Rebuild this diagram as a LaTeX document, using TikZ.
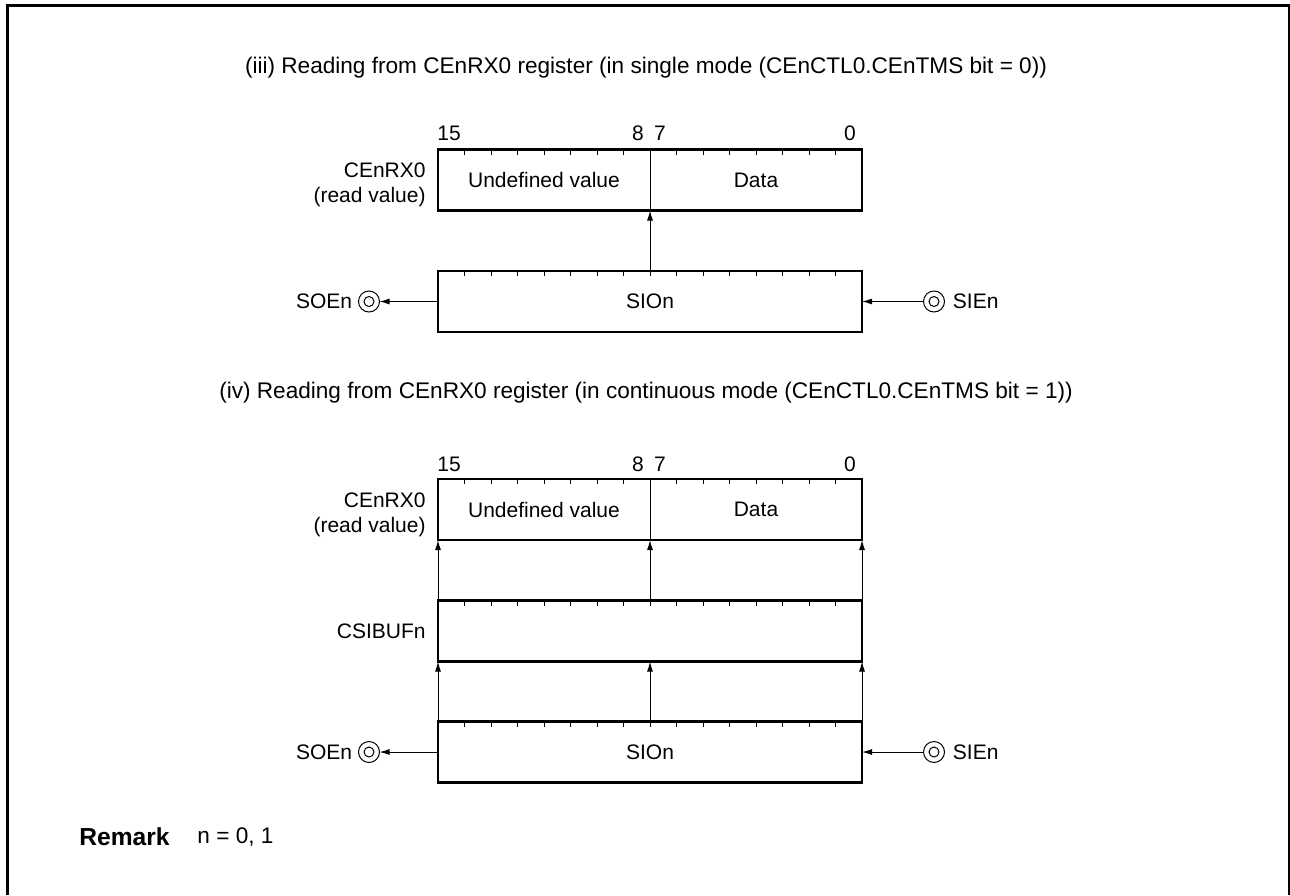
\documentclass[tikz,border=0pt]{standalone}
\usepackage{fontspec}
\setmainfont{Liberation Sans}
\usetikzlibrary{positioning,calc,arrows.meta}

\tikzset{
  lbl/.style={inner sep=1pt, font=\fontsize{10.5pt}{12.5pt}\selectfont},
  ttl/.style={inner sep=1pt, font=\fontsize{11.3pt}{13.5pt}\selectfont},
  rmk/.style={inner sep=1pt, font=\fontsize{12.3pt}{14.5pt}\selectfont},
  regbox/.style={draw, line width=1.35pt, minimum width=212pt, minimum height=30.5pt,
    inner sep=0pt, outer sep=0pt, font=\fontsize{10.5pt}{12.5pt}\selectfont},
  tick/.style={line width=0.5pt},
  sig/.style={line width=0.5pt, -{Latex[length=5pt,width=3pt]}},
  term/.style={circle, draw, line width=0.5pt, minimum size=10.5pt, inner sep=0pt, outer sep=0pt},
  frame/.style={line width=1.5pt},
}

\begin{document}
\begin{tikzpicture}[x=0.5pt,y=-0.5pt]
\useasboundingbox (0,0) rectangle (1290,895);

% --- Frame ---
\draw[frame] (7,895) -- (7,5) -- (1289,5) -- (1289,895);

% --- (iii) single mode ---
\node[ttl] (t3) at (646,68) {(iii) Reading from CEnRX0 register (in single mode (CEnCTL0.CEnTMS bit = 0))};

\node[regbox] (r1) at (650,180) {};
\node[regbox] (s1) at (650,301.5) {SIOn};
\draw[tick] (r1.north) -- (r1.south);
\node[lbl] (u1) at ($(r1.west)!0.5!(r1.center)$) {Undefined value};
\node[lbl] (d1) at ($(r1.center)!0.5!(r1.east)$) {Data};
\node[lbl, align=right, left=5pt of r1, yshift=-2.5pt] (n1) {CEnRX0\\(read value)};
\foreach \x/\lab in {449/15,638/8,660/7,850/0}
  \node[lbl] (b1-\lab) at (\x,133) {\lab};

\node[term] (so1) at (369,301.5) {};
\node[term] (si1) at (934,301.5) {};
\draw[tick] (so1.center) circle (2.5pt);
\draw[tick] (si1.center) circle (2.5pt);
\node[lbl, left=2pt of so1] (so1l) {SOEn};
\node[lbl, right=3pt of si1] (si1l) {SIEn};

\draw[sig] (s1.north) -- (r1.south);
\draw[sig] (s1.west) -- (so1.east);
\draw[sig] (si1.west) -- (s1.east);

% --- (iv) continuous mode ---
\node[ttl] (t4) at (646,393) {(iv) Reading from CEnRX0 register (in continuous mode (CEnCTL0.CEnTMS bit = 1))};

\node[regbox] (r2) at (650,509.5) {};
\node[regbox] (c2) at (650,631) {};
\node[regbox] (s2) at (650,752) {SIOn};
\draw[tick] (r2.north) -- (r2.south);
\node[lbl] (u2) at ($(r2.west)!0.5!(r2.center)$) {Undefined value};
\node[lbl] (d2) at ($(r2.center)!0.5!(r2.east)$) {Data};
\node[lbl, align=right, left=5pt of r2, yshift=-2.5pt] (n2) {CEnRX0\\(read value)};
\node[lbl, left=5pt of c2] (n3) {CSIBUFn};
\foreach \x/\lab in {449/15,638/8,660/7,850/0}
  \node[lbl] (b2-\lab) at (\x,464) {\lab};

\node[term] (so2) at (369,752) {};
\node[term] (si2) at (934,752) {};
\draw[tick] (so2.center) circle (2.5pt);
\draw[tick] (si2.center) circle (2.5pt);
\node[lbl, left=2pt of so2] (so2l) {SOEn};
\node[lbl, right=3pt of si2] (si2l) {SIEn};

\foreach \a in {north west,north,north east} {
  \draw[sig] (c2.\a) -- (r2.\a |- r2.south);
  \draw[sig] (s2.\a) -- (c2.\a |- c2.south);
}
\draw[sig] (s2.west) -- (so2.east);
\draw[sig] (si2.west) -- (s2.east);

% --- bit ticks ---
\foreach \n in {r1,s1,r2,c2,s2}
  \foreach \i in {1,...,15}
    \draw[tick] ($(\n.north west)!\i/16!(\n.north east)$) -- ++(0,5);

% --- Remark ---
\node[rmk, anchor=west] (rem) at (77,837) {\textbf{Remark}};
\node[ttl, right=11.5pt of rem] (remt) {n = 0, 1};

\end{tikzpicture}
\end{document}
